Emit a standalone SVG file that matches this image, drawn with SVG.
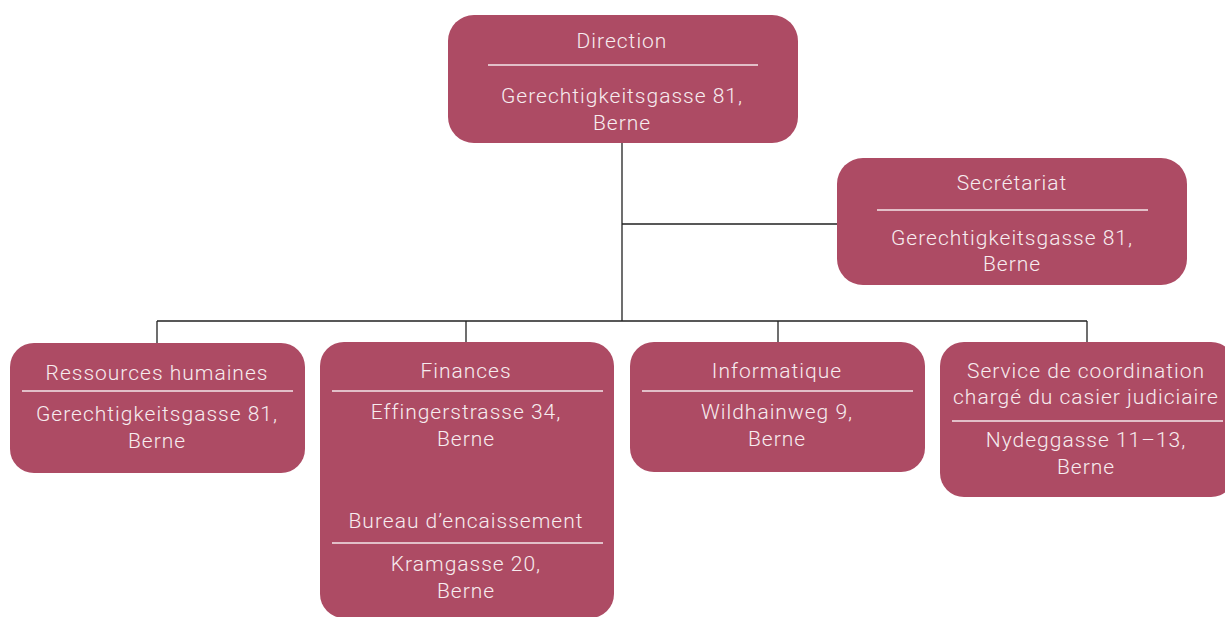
<svg xmlns="http://www.w3.org/2000/svg" width="1225" height="617" viewBox="0 0 1225 617">
<style>
.box{fill:#ad4b64}
.sep{stroke:#f4e6ea;stroke-width:1.5}
.t{font-family:Roboto,"Liberation Sans",Arial,sans-serif;font-weight:300;font-size:21px;letter-spacing:1px;fill:#f7ecef;text-anchor:middle}
.c{stroke:#222;stroke-width:1.3;fill:none}
</style>
<rect width="1225" height="617" fill="#fff"/>
<g id="connectors">
<path class="c" d="M622 143V321M622 224H837M157 321H1087M157 321V343M466 321V342M778 321V342M1087 321V342"/>
</g>
<g id="direction">
<rect class="box" x="448" y="15" width="350" height="128" rx="26"/>
<text class="t" x="622" y="48">Direction</text>
<line class="sep" x1="488" y1="65" x2="758" y2="65"/>
<text class="t" x="622" y="103">Gerechtigkeitsgasse 81,</text>
<text class="t" x="622" y="130">Berne</text>
</g>
<g id="secretariat">
<rect class="box" x="837" y="158" width="350" height="127" rx="26"/>
<text class="t" x="1012" y="190">Secrétariat</text>
<line class="sep" x1="877" y1="210" x2="1148" y2="210"/>
<text class="t" x="1012" y="245">Gerechtigkeitsgasse 81,</text>
<text class="t" x="1012" y="271">Berne</text>
</g>
<g id="rh">
<rect class="box" x="10" y="343" width="295" height="130" rx="24"/>
<text class="t" x="157" y="380">Ressources humaines</text>
<line class="sep" x1="22" y1="391" x2="293" y2="391"/>
<text class="t" x="157" y="421">Gerechtigkeitsgasse 81,</text>
<text class="t" x="157" y="448">Berne</text>
</g>
<g id="finances">
<rect class="box" x="320" y="342" width="294" height="276" rx="24"/>
<text class="t" x="466" y="378">Finances</text>
<line class="sep" x1="332" y1="391" x2="603" y2="391"/>
<text class="t" x="466" y="419">Effingerstrasse 34,</text>
<text class="t" x="466" y="446">Berne</text>
<text class="t" x="466" y="528">Bureau d’encaissement</text>
<line class="sep" x1="332" y1="543" x2="603" y2="543"/>
<text class="t" x="466" y="571">Kramgasse 20,</text>
<text class="t" x="466" y="598">Berne</text>
</g>
<g id="informatique">
<rect class="box" x="630" y="342" width="295" height="130" rx="24"/>
<text class="t" x="777" y="378">Informatique</text>
<line class="sep" x1="642" y1="391" x2="913" y2="391"/>
<text class="t" x="777" y="419">Wildhainweg 9,</text>
<text class="t" x="777" y="446">Berne</text>
</g>
<g id="casier">
<rect class="box" x="940" y="342" width="295" height="155" rx="24"/>
<text class="t" x="1086" y="378">Service de coordination</text>
<text class="t" x="1086" y="404">chargé du casier judiciaire</text>
<line class="sep" x1="952" y1="421" x2="1223" y2="421"/>
<text class="t" x="1086" y="447">Nydeggasse 11–13,</text>
<text class="t" x="1086" y="474">Berne</text>
</g>
</svg>
